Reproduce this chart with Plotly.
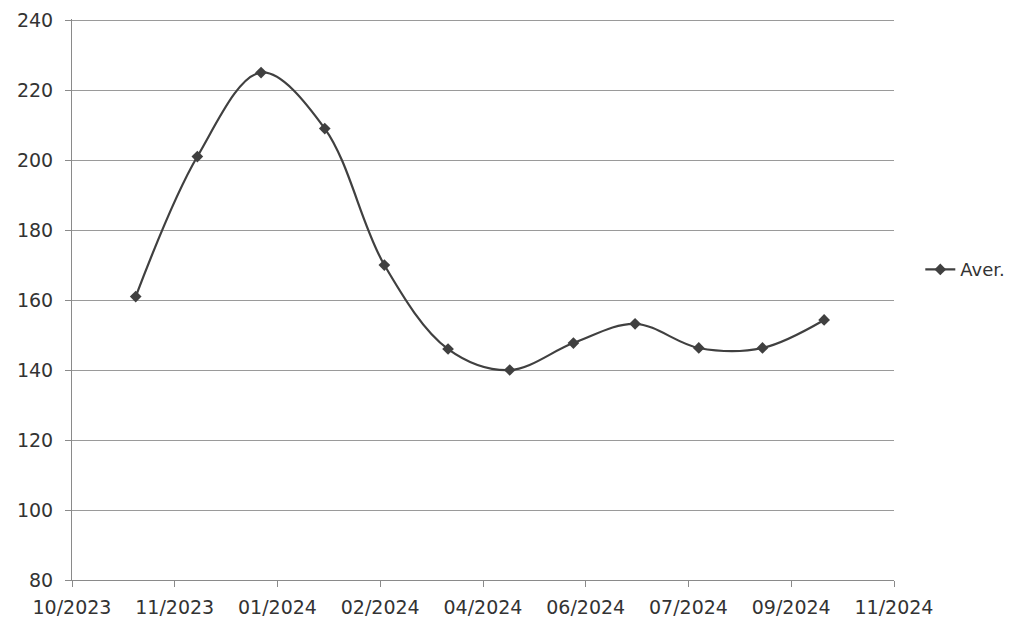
import plotly.graph_objects as go
import pandas as pd

# Data (monthly averages)
dates = ["2023-11-01", "2023-12-01", "2024-01-01", "2024-02-01", "2024-03-01", "2024-04-01",
         "2024-05-01", "2024-06-01", "2024-07-01", "2024-08-01", "2024-09-01", "2024-10-01"]
aver = [161, 201, 225, 209, 170, 146, 140, 147.7, 153.2, 146.3, 146.3, 154.3]
series_name = "Aver."

# Axis settings (Excel-style date axis: start 2023-10-01, major unit 50 days)
x_start = pd.Timestamp("2023-10-01")
major_days = 50
n_ticks = 9
tickvals = [x_start + pd.Timedelta(days=major_days * k) for k in range(n_ticks)]
y_ticks = list(range(80, 241, 20))
y_min, y_max = 80, 240.3

font_family = "DejaVu Sans"
text_color = "#333333"
line_color = "#404040"

fig = go.Figure()
fig.add_trace(go.Scatter(
    x=pd.to_datetime(dates), y=aver, name=series_name,
    mode="lines+markers",
    line=dict(color=line_color, width=2.2, shape="spline", smoothing=1.0),
    marker=dict(symbol="diamond", size=9, color=line_color),
))

fig.update_layout(
    width=1018, height=627,
    margin=dict(l=64, r=132, t=11, b=55),
    paper_bgcolor="white", plot_bgcolor="white",
    font=dict(family=font_family, size=18, color=text_color),
    showlegend=True,
    legend=dict(x=1.032, y=0.553, xanchor="left", yanchor="middle",
                font=dict(size=18, color=text_color), bgcolor="rgba(0,0,0,0)",
                itemwidth=30),
    xaxis=dict(
        type="date", automargin=False,
        range=[tickvals[0], tickvals[-1]],
        tickvals=tickvals, tickformat="%m/%Y",
        showgrid=False, zeroline=False,
        showline=True, linecolor="#8a8a8a", linewidth=1,
        ticks="outside", ticklen=6, tickcolor="#8a8a8a",
        ticklabelstandoff=4,
        tickfont=dict(size=19, color=text_color),
    ),
    yaxis=dict(
        automargin=False,
        range=[y_min, y_max], tickvals=y_ticks,
        showgrid=True, gridcolor="#9a9a9a", gridwidth=1,
        zeroline=False,
        showline=True, linecolor="#8a8a8a", linewidth=1,
        ticks="outside", ticklen=6, tickcolor="#8a8a8a",
        ticklabelstandoff=8,
        tickfont=dict(size=19, color=text_color),
    ),
)

fig.write_html("out.html")
